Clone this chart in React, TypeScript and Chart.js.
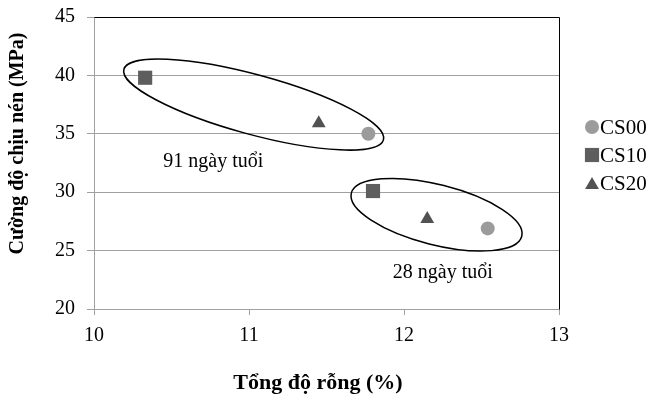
import React, { useEffect, useRef } from 'react';
import { Chart, registerables } from 'chart.js';

Chart.register(...registerables);

// ---------- data ----------
const seriesNames = ['CS00', 'CS10', 'CS20'];
const cs00X = [11.77, 12.54];
const cs00Y = [35.0, 26.9];
const cs10X = [10.33, 11.8];
const cs10Y = [39.8, 30.1];
const cs20X = [11.45, 12.15];
const cs20Y = [35.9, 27.7];

const xMin = 10;
const xMax = 13;
const xStep = 1;
const yMin = 20;
const yMax = 45;
const yStep = 5;

const xTitle = 'Tổng độ rỗng (%)';
const yTitle = 'Cường độ chịu nén (MPa)';

// group annotations (data units)
const groupLabels = ['91 ngày tuổi', '28 ngày tuổi'];
const groupLabelX = [10.77, 12.25];
const groupLabelY = [32.6, 23.1];
const ellipseCenterX = [11.03, 12.21];
const ellipseCenterY = [37.5, 28.07];

// ---------- styles ----------
const FONT = "'Liberation Serif', 'Times New Roman', serif";
const GRID = '#a0a0a0';
const seriesColors = ['#9b9b9b', '#5e5e5e', '#525252'];
const seriesStyles = ['circle', 'rect', 'triangle'];
const seriesRadius = [7, 10, 8];
const ellipseShape = [
  { rx: 134.5, ry: 29.8, angleDeg: 15.2 },
  { rx: 87.9, ry: 30.1, angleDeg: 14.2 },
];

function toPoints(xs: number[], ys: number[]) {
  return xs.map((x, i) => ({ x, y: ys[i] }));
}

function drawMarker(ctx: CanvasRenderingContext2D, style: string, x: number, y: number, r: number, color: string) {
  ctx.fillStyle = color;
  ctx.beginPath();
  if (style === 'circle') {
    ctx.arc(x, y, r, 0, Math.PI * 2);
  } else if (style === 'rect') {
    const s = Math.SQRT1_2 * r;
    ctx.rect(x - s, y - s, 2 * s, 2 * s);
  } else {
    let rad = 0;
    const step = (2 * Math.PI) / 3;
    ctx.moveTo(x + Math.sin(rad) * r, y - Math.cos(rad) * r);
    rad += step;
    ctx.lineTo(x + Math.sin(rad) * r, y - Math.cos(rad) * r);
    rad += step;
    ctx.lineTo(x + Math.sin(rad) * r, y - Math.cos(rad) * r);
    ctx.closePath();
  }
  ctx.fill();
}

const overlayPlugin = {
  id: 'overlay',
  afterDraw(chart: any) {
    const { ctx, chartArea: a, scales } = chart;
    const xs = scales.x;
    const ys = scales.y;
    ctx.save();

    // plot area border (top & right) in black
    ctx.strokeStyle = '#000000';
    ctx.lineWidth = 1;
    ctx.beginPath();
    ctx.moveTo(Math.round(a.left) + 0.5, Math.round(a.top) + 0.5);
    ctx.lineTo(Math.round(a.right) + 0.5, Math.round(a.top) + 0.5);
    ctx.lineTo(Math.round(a.right) + 0.5, Math.round(a.bottom) + 0.5);
    ctx.stroke();

    // ellipses
    ctx.strokeStyle = '#000000';
    ctx.lineWidth = 1.5;
    ellipseCenterX.forEach((cx, i) => {
      const px = xs.getPixelForValue(cx);
      const py = ys.getPixelForValue(ellipseCenterY[i]);
      const e = ellipseShape[i];
      ctx.beginPath();
      ctx.ellipse(px, py, e.rx, e.ry, (e.angleDeg * Math.PI) / 180, 0, Math.PI * 2);
      ctx.stroke();
    });

    // group labels
    ctx.fillStyle = '#000000';
    ctx.font = `20px ${FONT}`;
    ctx.textAlign = 'center';
    ctx.textBaseline = 'middle';
    groupLabels.forEach((t, i) => {
      ctx.fillText(t, xs.getPixelForValue(groupLabelX[i]), ys.getPixelForValue(groupLabelY[i]));
    });

    // legend
    const lx = 592;
    const ly0 = 127;
    const lGap = 28;
    ctx.font = `21px ${FONT}`;
    ctx.textAlign = 'left';
    ctx.textBaseline = 'middle';
    seriesNames.forEach((name, i) => {
      const y = ly0 + i * lGap;
      const r = seriesRadius[i];
      const my = seriesStyles[i] === 'triangle' ? y + 2 : y;
      drawMarker(ctx, seriesStyles[i], lx, my, r, seriesColors[i]);
      ctx.fillStyle = '#000000';
      ctx.fillText(name, lx + 8, y + 1);
    });

    // axis titles
    ctx.fillStyle = '#000000';
    ctx.font = `bold 22px ${FONT}`;
    ctx.textAlign = 'center';
    ctx.textBaseline = 'alphabetic';
    ctx.fillText(xTitle, 318, 389);

    ctx.save();
    ctx.translate(23, 143.5);
    ctx.rotate(-Math.PI / 2);
    ctx.font = `bold 20px ${FONT}`;
    ctx.fillText(yTitle, 0, 0);
    ctx.restore();

    ctx.restore();
  },
};

export default function App() {
  const canvasRef = useRef<HTMLCanvasElement | null>(null);

  useEffect(() => {
    document.body.style.margin = '0';
    const canvas = canvasRef.current;
    if (!canvas) return;
    const datasets = seriesNames.map((name, i) => {
      const pts = i === 0 ? toPoints(cs00X, cs00Y) : i === 1 ? toPoints(cs10X, cs10Y) : toPoints(cs20X, cs20Y);
      return {
        label: name,
        data: pts,
        pointStyle: seriesStyles[i],
        pointRadius: seriesRadius[i],
        pointHoverRadius: seriesRadius[i],
        backgroundColor: seriesColors[i],
        borderColor: seriesColors[i],
        borderWidth: 0,
        showLine: false,
      };
    });

    const chart = new Chart(canvas, {
      type: 'scatter',
      data: { datasets } as any,
      options: {
        responsive: false,
        animation: false,
        devicePixelRatio: 1,
        layout: { padding: { left: 0, right: 95, top: 17, bottom: 0 } },
        plugins: {
          legend: { display: false },
          tooltip: { enabled: false },
        },
        scales: {
          x: {
            type: 'linear',
            min: xMin,
            max: xMax,
            afterFit: (s: any) => {
              s.height = 91;
              s.paddingLeft = 0;
              s.paddingRight = 0;
            },
            ticks: {
              stepSize: xStep,
              color: '#000000',
              font: { family: FONT, size: 20 },
              padding: 9,
            },
            grid: {
              drawOnChartArea: false,
              drawTicks: true,
              tickLength: 6,
              color: GRID,
            },
            border: { color: GRID, width: 1 },
          },
          y: {
            type: 'linear',
            min: yMin,
            max: yMax,
            afterFit: (s: any) => {
              s.width = 94;
              s.paddingTop = 0;
              s.paddingBottom = 0;
            },
            ticks: {
              stepSize: yStep,
              color: '#000000',
              font: { family: FONT, size: 20 },
              padding: 12,
            },
            grid: {
              drawOnChartArea: true,
              drawTicks: true,
              tickLength: 7,
              color: GRID,
            },
            border: { color: GRID, width: 1 },
          },
        },
      } as any,
      plugins: [overlayPlugin],
    });
    return () => chart.destroy();
  }, []);

  return (
    <div style={{ position: 'absolute', left: 0, top: 0, width: 654, height: 400 }}>
      <canvas ref={canvasRef} width={654} height={400} style={{ width: 654, height: 400, display: 'block' }} />
    </div>
  );
}
